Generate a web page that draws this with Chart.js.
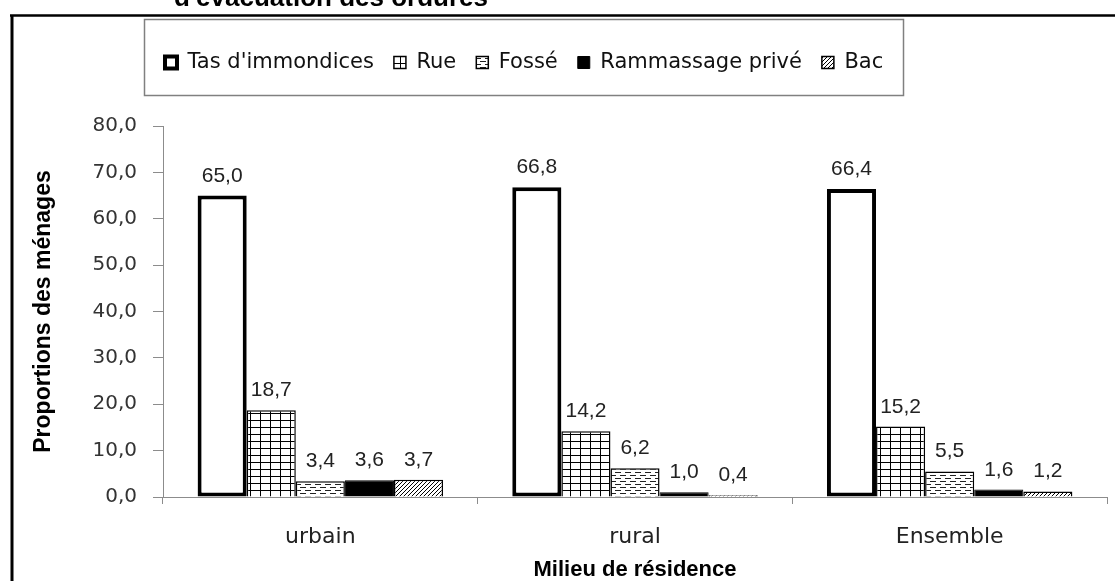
<!DOCTYPE html>
<html lang="fr">
<head>
<meta charset="utf-8">
<title>Mode d'évacuation des ordures</title>
<script src="https://cdn.jsdelivr.net/npm/chart.js@4.4.1/dist/chart.umd.min.js"></script>
<style>
  html, body { margin: 0; padding: 0; background: #fff; }
  #wrap { width: 1115px; height: 581px; }
</style>
</head>
<body>
<div id="wrap"><canvas id="chart" width="1115" height="581"></canvas></div>
<script>
// values (% of households)
const categories = ['urbain', 'rural', 'Ensemble'];
const seriesNames = ["Tas d'immondices", 'Rue', 'Fossé', 'Rammassage privé', 'Bac'];
const tasValues = [65.0, 66.8, 66.4];
const rueValues = [18.7, 14.2, 15.2];
const fosseValues = [3.4, 6.2, 5.5];
const rammassageValues = [3.6, 1.0, 1.6];
const bacValues = [3.7, 0.4, 1.2];
const yTicks = [0, 10, 20, 30, 40, 50, 60, 70, 80];
const chartTitle = "d'évacuation des ordures";
const xTitle = 'Milieu de résidence';
const yTitle = 'Proportions des ménages';

const fmt = v => v.toFixed(1).replace('.', ',');
const canvas = document.getElementById('chart');

// ── fill patterns (Excel-like black & white hatches) ──
function makePattern(w, h, draw) {
  const c = document.createElement('canvas');
  c.width = w; c.height = h;
  const g = c.getContext('2d');
  g.fillStyle = '#fff';
  g.fillRect(0, 0, w, h);
  g.strokeStyle = '#000';
  g.lineWidth = 1;
  g.beginPath();
  draw(g);
  g.stroke();
  return canvas.getContext('2d').createPattern(c, 'repeat');
}
const gridFill = makePattern(10, 7, g => {
  g.moveTo(0.5, 0); g.lineTo(0.5, 7);
  g.moveTo(0, 0.5); g.lineTo(10, 0.5);
});
const dashFill = makePattern(10, 6, g => {
  g.strokeStyle = '#222';
  g.moveTo(0, 1.5); g.lineTo(6, 1.5);
  g.moveTo(5, 4.5); g.lineTo(10, 4.5);
  g.moveTo(0, 4.5); g.lineTo(1, 4.5);
});
const hatchFill = makePattern(4, 4, g => {
  g.moveTo(0, 4); g.lineTo(4, 0);
  g.moveTo(-1, 1); g.lineTo(1, -1);
  g.moveTo(3, 5); g.lineTo(5, 3);
});

// ── frame, cut-off title, legend box, value labels ──
const decorPlugin = {
  id: 'decor',
  afterInit(chart) {
    // leave room between the legend and the plot like the original
    const legend = chart.legend;
    const fit = legend.fit;
    legend.fit = function () { fit.call(this); this.height = 94; };
  },
  afterLayout(chart) {
    // legend sits left of centre in the original
    chart.legend.left = 145;
  },
  beforeDraw(chart) {
    const ctx = chart.ctx;
    ctx.save();
    ctx.font = 'bold 26px "Liberation Sans", Arial, sans-serif';
    ctx.fillStyle = '#000';
    ctx.textAlign = 'center';
    ctx.textBaseline = 'alphabetic';
    ctx.fillText(chartTitle, 331, 6);

    ctx.strokeStyle = '#000';
    ctx.lineWidth = 2.5;
    ctx.beginPath(); ctx.moveTo(10, 15.5); ctx.lineTo(chart.width, 15.5); ctx.stroke();
    ctx.lineWidth = 3;
    ctx.beginPath(); ctx.moveTo(12, 15); ctx.lineTo(12, chart.height); ctx.stroke();

    const boxes = chart.legend.legendHitBoxes;
    if (boxes && boxes.length) {
      const first = boxes[0], last = boxes[boxes.length - 1];
      const x0 = Math.round(first.left) - 20.5;
      const x1 = Math.round(last.left + last.width) + 20.5;
      ctx.strokeStyle = '#808080';
      ctx.lineWidth = 1.5;
      ctx.strokeRect(x0, 19.5, x1 - x0, 76);
    }
    ctx.restore();
  },
  afterDatasetsDraw(chart) {
    const ctx = chart.ctx;
    ctx.save();
    ctx.font = '21px "Liberation Sans", Arial, sans-serif';
    ctx.fillStyle = '#222';
    ctx.textAlign = 'center';
    ctx.textBaseline = 'alphabetic';
    chart.data.datasets.forEach((ds, i) => {
      chart.getDatasetMeta(i).data.forEach((bar, j) => {
        ctx.fillText(fmt(ds.data[j]), bar.x, bar.y - 14);
      });
    });
    ctx.restore();
  }
};

const axisGrey = '#8c8c8c';

new Chart(canvas, {
  type: 'bar',
  data: {
    labels: categories,
    datasets: [
      { label: seriesNames[0], data: tasValues, backgroundColor: '#fff', borderColor: '#000', borderWidth: 4, borderSkipped: false },
      { label: seriesNames[1], data: rueValues, backgroundColor: gridFill, borderColor: '#000', borderWidth: 1.5 },
      { label: seriesNames[2], data: fosseValues, backgroundColor: dashFill, borderColor: '#000', borderWidth: 1.5 },
      { label: seriesNames[3], data: rammassageValues, backgroundColor: '#000', borderColor: '#000', borderWidth: 1 },
      { label: seriesNames[4], data: bacValues, backgroundColor: hatchFill, borderColor: '#000', borderWidth: 1.5 },
    ],
  },
  options: {
    responsive: false,
    animation: false,
    devicePixelRatio: 1,
    categoryPercentage: 0.78,
    barPercentage: 1,
    layout: { padding: { top: 32, left: 0, right: 8, bottom: 0 } },
    plugins: {
      tooltip: { enabled: false },
      legend: {
        position: 'top',
        align: 'start',
        labels: {
          font: { family: 'DejaVu Sans', size: 21 },
          color: '#111',
          boxWidth: 12,
          boxHeight: 12,
          padding: 20,
        },
      },
    },
    scales: {
      x: {
        grid: { display: true, drawOnChartArea: false, drawTicks: true, tickLength: 7, color: axisGrey },
        border: { color: axisGrey, width: 1 },
        ticks: { font: { family: 'DejaVu Sans', size: 22 }, color: '#222', padding: 20 },
        title: {
          display: true, text: xTitle, color: '#000', padding: 0,
          font: { family: 'Liberation Sans', size: 22, weight: 'bold', lineHeight: 1 },
        },
        afterFit(scale) { scale.height = 84; },
      },
      y: {
        min: yTicks[0],
        max: yTicks[yTicks.length - 1],
        grid: { drawOnChartArea: false, tickLength: 10, color: axisGrey },
        border: { color: axisGrey, width: 1 },
        ticks: {
          stepSize: yTicks[1] - yTicks[0],
          font: { family: 'DejaVu Sans', size: 20 },
          color: '#333',
          padding: 16,
          callback: v => fmt(v),
        },
        title: {
          display: true, text: yTitle, color: '#000', padding: { top: 30, bottom: 0 },
          font: { family: 'Liberation Sans', size: 23, weight: 'bold' },
        },
        afterFit(scale) { scale.width = 163; },
      },
    },
  },
  plugins: [decorPlugin],
});
</script>
</body>
</html>
